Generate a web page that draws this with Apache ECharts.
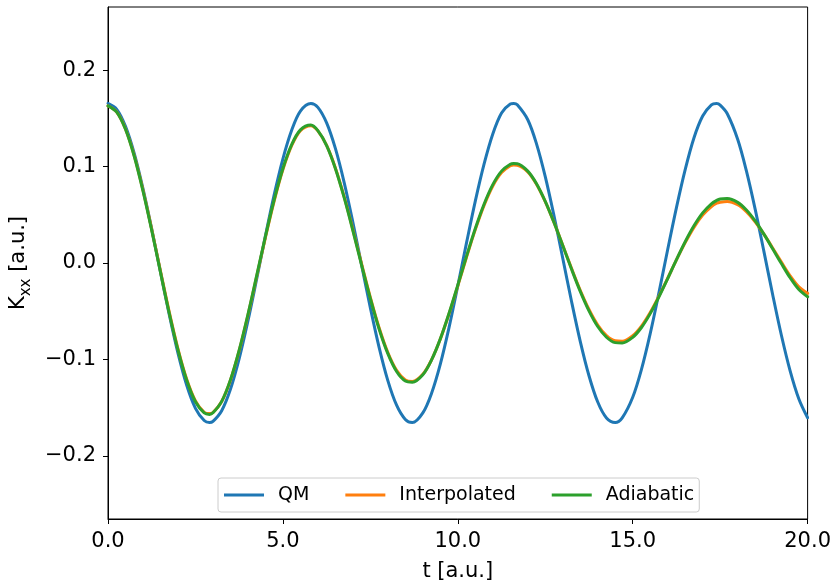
<!DOCTYPE html>
<html>
<head>
<meta charset="utf-8">
<script src="https://cdn.jsdelivr.net/npm/echarts@6/dist/echarts.min.js"></script>
<style>
  html, body { margin: 0; padding: 0; background: #fff; }
  #chart { width: 834px; height: 587px; }
</style>
</head>
<body>
<div id="chart"></div>
<script>
// Sampling times t [a.u.] (extra samples near the extrema)
const times = [
  0, 0.25, 0.5, 0.75, 1, 1.25, 1.5, 1.75, 2, 2.25, 2.5, 2.75, 2.9,
  3, 3.25, 3.5, 3.75, 4, 4.25, 4.5, 4.75, 5, 5.25, 5.5, 5.8,
  6, 6.25, 6.5, 6.75, 7, 7.25, 7.5, 7.75, 8, 8.25, 8.5, 8.7,
  9, 9.25, 9.5, 9.75, 10, 10.25, 10.5, 10.75, 11, 11.25, 11.5, 11.6, 11.7,
  12, 12.25, 12.5, 12.75, 13, 13.25, 13.5, 13.75, 14, 14.25, 14.5, 14.7,
  15, 15.25, 15.5, 15.75, 16, 16.25, 16.5, 16.75, 17, 17.25, 17.4, 17.5, 17.7,
  18, 18.25, 18.5, 18.75, 19, 19.25, 19.5, 19.75, 20
];

// K_xx values for each method
const qm = [
  0.1655, 0.1594, 0.1417, 0.1136, 0.0771, 0.0352, -0.0094, -0.0534, -0.0935, -0.1268, -0.1507, -0.1634, -0.1655,
  -0.1643, -0.1532, -0.1310, -0.0992, -0.0602, -0.0166, 0.0281, 0.0707, 0.1081, 0.1377, 0.1576, 0.1655,
  0.1614, 0.1453, 0.1188, 0.0837, 0.0422, -0.0023, -0.0465, -0.0875, -0.1220, -0.1475, -0.1623, -0.1655,
  -0.1555, -0.1351, -0.1049, -0.0668, -0.0236, 0.0211, 0.0642, 0.1025, 0.1338, 0.1555, 0.1649, 0.1655, 0.1641,
  0.1486, 0.1236, 0.0896, 0.0490, 0.0049, -0.0396, -0.0812, -0.1169, -0.1442, -0.1607, -0.1654, -0.1606,
  -0.1393, -0.1104, -0.0733, -0.0307, 0.0140, 0.0575, 0.0969, 0.1297, 0.1524, 0.1641, 0.1654, 0.1638, 0.1550,
  0.1283, 0.0955, 0.0559, 0.0121, -0.0326, -0.0749, -0.1118, -0.1410, -0.1605
];

const interpolated = [
  0.1630, 0.1566, 0.1390, 0.1113, 0.0756, 0.0349, -0.0083, -0.0507, -0.0890, -0.1205, -0.1430, -0.1548, -0.1562,
  -0.1551, -0.1436, -0.1216, -0.0909, -0.0542, -0.0140, 0.0264, 0.0642, 0.0968, 0.1216, 0.1372, 0.1424,
  0.1370, 0.1219, 0.0986, 0.0688, 0.0347, -0.0010, -0.0356, -0.0671, -0.0928, -0.1113, -0.1213, -0.1228,
  -0.1155, -0.1004, -0.0789, -0.0527, -0.0237, 0.0061, 0.0346, 0.0597, 0.0799, 0.0938, 0.1009, 0.1016, 0.1014,
  0.0945, 0.0817, 0.0637, 0.0421, 0.0185, -0.0055, -0.0283, -0.0482, -0.0643, -0.0753, -0.0807, -0.0811,
  -0.0754, -0.0654, -0.0513, -0.0343, -0.0158, 0.0032, 0.0211, 0.0370, 0.0497, 0.0585, 0.0620, 0.0631, 0.0639,
  0.0605, 0.0533, 0.0428, 0.0299, 0.0156, 0.0009, -0.0133, -0.0248, -0.0315
];

const adiabatic = [
  0.1630, 0.1565, 0.1387, 0.1107, 0.0747, 0.0338, -0.0095, -0.0519, -0.0902, -0.1216, -0.1439, -0.1555, -0.1570,
  -0.1554, -0.1435, -0.1212, -0.0903, -0.0534, -0.0131, 0.0275, 0.0655, 0.0980, 0.1228, 0.1381, 0.1430,
  0.1372, 0.1218, 0.0981, 0.0680, 0.0337, -0.0021, -0.0369, -0.0684, -0.0940, -0.1125, -0.1224, -0.1236,
  -0.1159, -0.1005, -0.0787, -0.0521, -0.0229, 0.0071, 0.0358, 0.0610, 0.0813, 0.0953, 0.1024, 0.1031, 0.1030,
  0.0953, 0.0822, 0.0639, 0.0420, 0.0181, -0.0063, -0.0294, -0.0496, -0.0659, -0.0770, -0.0826, -0.0830,
  -0.0771, -0.0669, -0.0525, -0.0351, -0.0161, 0.0035, 0.0221, 0.0386, 0.0520, 0.0614, 0.0649, 0.0664, 0.0669,
  0.0629, 0.0549, 0.0436, 0.0299, 0.0148, -0.0006, -0.0153, -0.0275, -0.0350
];

const seriesNames = ['QM', 'Interpolated', 'Adiabatic'];
const seriesColors = ['#1f77b4', '#ff7f0e', '#2ca02c'];
const yTicks = [-0.2, -0.1, 0.0, 0.1, 0.2];

const FONT = 'DejaVu Sans';
const minus = v => (v < 0 ? '\u2212' + Math.abs(v).toFixed(1) : v.toFixed(1));
const pairs = ys => times.map((t, i) => [t, ys[i]]);

const chart = echarts.init(document.getElementById('chart'), null, { renderer: 'canvas' });

chart.setOption({
  animation: false,
  backgroundColor: '#fff',
  textStyle: { fontFamily: FONT },
  grid: {
    left: 108, right: 26, top: 7, bottom: 67,
    show: true, borderColor: '#000', borderWidth: 1, backgroundColor: 'transparent'
  },
  legend: {
    data: seriesNames.map(name => ({ name, icon: 'rect' })),
    left: 218, top: 478,
    orient: 'horizontal',
    itemWidth: 40, itemHeight: 3, itemGap: 36,
    padding: [7, 5, 7, 6],
    borderColor: '#cccccc', borderWidth: 1, borderRadius: 3,
    backgroundColor: 'rgba(255,255,255,0.8)',
    textStyle: { fontFamily: FONT, fontSize: 19, color: '#000', padding: [0, 0, 0, 9], lineHeight: 20 }
  },
  xAxis: {
    type: 'value', min: 0, max: 20, interval: 5,
    name: 't [a.u.]', nameLocation: 'middle', nameGap: 42,
    nameTextStyle: { fontFamily: FONT, fontSize: 21, color: '#000' },
    axisLine: { onZero: false, lineStyle: { color: '#000', width: 1 } },
    axisTick: { show: true, length: 5, lineStyle: { color: '#000' } },
    axisLabel: { fontFamily: FONT, fontSize: 21, color: '#000', margin: 12, formatter: v => minus(v) },
    splitLine: { show: false }
  },
  yAxis: {
    type: 'value', min: -0.2655, max: 0.2655,
    name: '{k|K}{s|xx}{k| [a.u.]}', nameLocation: 'middle', nameGap: 67, nameRotate: 90,
    nameTextStyle: {
      fontFamily: FONT, color: '#000',
      rich: {
        k: { fontFamily: FONT, fontSize: 21, color: '#000', verticalAlign: 'bottom', padding: [0, 0, 5, 0] },
        s: { fontFamily: FONT, fontSize: 15, color: '#000', verticalAlign: 'bottom' }
      }
    },
    axisLine: { show: true, onZero: false, lineStyle: { color: '#000', width: 1 } },
    axisTick: { show: true, length: 5, lineStyle: { color: '#000' }, customValues: yTicks },
    axisLabel: { fontFamily: FONT, fontSize: 21, color: '#000', margin: 12, customValues: yTicks, formatter: v => minus(v) },
    splitLine: { show: false }
  },
  series: seriesNames.map((name, i) => ({
    name,
    type: 'line',
    data: pairs([qm, interpolated, adiabatic][i]),
    showSymbol: false,
    symbol: 'none',
    smooth: 0.33,
    color: seriesColors[i],
    lineStyle: { color: seriesColors[i], width: 3, join: 'round', cap: 'round' },
    z: 2 + i
  }))
});
</script>
</body>
</html>
